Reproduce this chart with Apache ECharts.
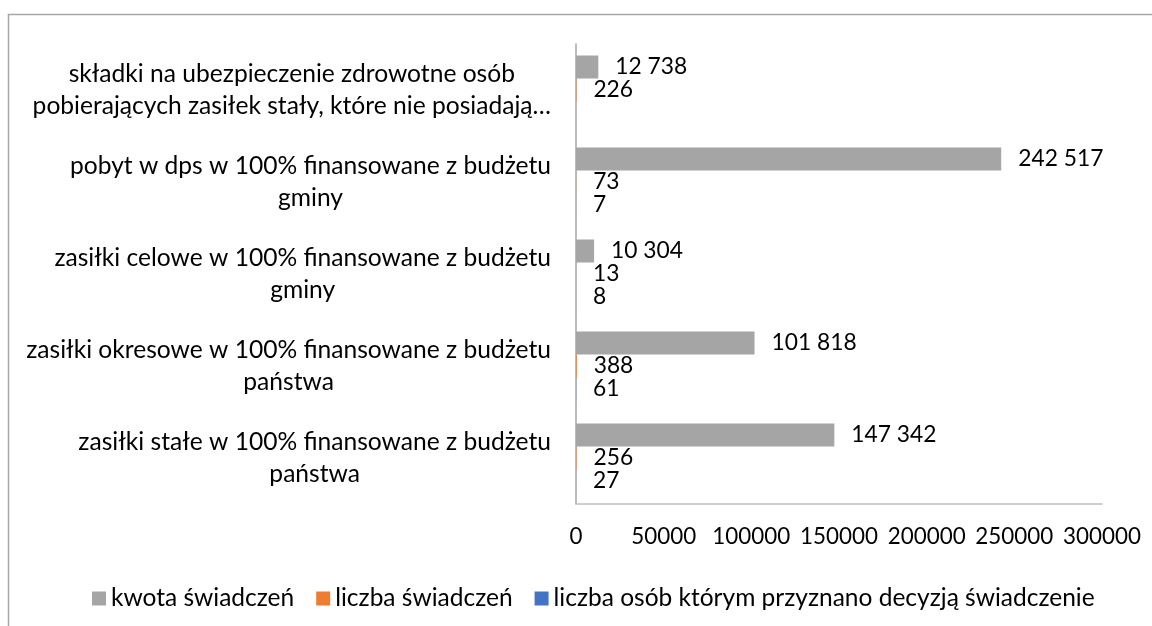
<!DOCTYPE html>
<html>
<head>
<meta charset="utf-8">
<script src="https://cdn.jsdelivr.net/npm/echarts@6/dist/echarts.min.js"></script>
<style>
  html, body { margin: 0; padding: 0; background: #fff; }
  #chart { width: 1152px; height: 626px; }
</style>
</head>
<body>
<div id="chart"></div>
<script>
// kategorie od góry do dołu
const categories = [
  'składki na ubezpieczenie zdrowotne osób\npobierających zasiłek stały, które nie posiadają…',
  'pobyt w dps w 100% finansowane z budżetu\ngminy',
  'zasiłki celowe w 100% finansowane z budżetu\ngminy',
  'zasiłki okresowe w 100% finansowane z budżetu\npaństwa',
  'zasiłki stałe w 100% finansowane z budżetu\npaństwa'
];
const seriesNames = ['kwota świadczeń', 'liczba świadczeń', 'liczba osób którym przyznano decyzją świadczenie'];
const kwota = [12738, 242517, 10304, 101818, 147342];
const liczba = [226, 73, 13, 388, 256];
const osoby = [null, 7, 8, 61, 27];
const xTicks = [0, 300000, 50000]; // min, max, interval

const colors = ['#a5a5a5', '#ed7d31', '#4472c4'];
const font = 'Lato';

// rozmiar czcionki dobrany tak, zeby tekst mial zadana szerokosc (oryginal byl w Calibri)
const ctx = document.createElement('canvas').getContext('2d');
function fitSize(text, width) {
  ctx.font = '100px ' + font;
  return Math.round(1000 * width / ctx.measureText(text).width) / 10;
}
const catSize = fitSize('zasiłki stałe w 100% finansowane z budżetu', 472);
const tickSize = fitSize('300000', 78);
const valSize = fitSize('147 342', 85);
const legendSize = fitSize('kwota świadczeń', 183);

// 12738 -> "12 738"
function fmt(v) {
  return String(v).replace(/\B(?=(\d{3})+(?!\d))/g, ' ');
}

const chart = echarts.init(document.getElementById('chart'));

function barSeries(name, data, i) {
  return {
    name: name,
    type: 'bar',
    data: data,
    barWidth: 23,
    barGap: '0%',
    itemStyle: { color: colors[i] },
    label: {
      show: true,
      position: 'right',
      distance: 17,
      color: '#000',
      fontFamily: font,
      fontSize: valSize,
      formatter: p => fmt(p.value)
    }
  };
}

chart.setOption({
  animation: false,
  textStyle: { fontFamily: font },
  graphic: [{
    type: 'polyline',
    shape: { points: [[8.5, 626], [8.5, 14.5], [1152, 14.5]] },
    style: { stroke: '#a6a6a6', lineWidth: 1.5, fill: null }
  }],
  grid: { left: 576, right: 50, top: 44, bottom: 122 },
  legend: {
    left: 87,
    top: 581,
    itemWidth: 14,
    itemHeight: 14,
    itemGap: 22,
    icon: 'rect',
    textStyle: { color: '#000', fontSize: legendSize, fontFamily: font },
    data: seriesNames
  },
  xAxis: {
    type: 'value',
    min: xTicks[0],
    max: xTicks[1],
    interval: xTicks[2],
    axisLine: { show: true, lineStyle: { color: '#bfbfbf', width: 1.5 } },
    axisTick: { show: false },
    splitLine: { show: false },
    axisLabel: { color: '#000', fontSize: tickSize, margin: 22, fontFamily: font, formatter: v => String(v) }
  },
  yAxis: {
    type: 'category',
    inverse: true,
    data: categories,
    axisLine: { show: true, lineStyle: { color: '#a6a6a6', width: 1.5 } },
    axisTick: { show: false },
    axisLabel: {
      interval: 0,
      margin: 25,
      align: 'right',
      color: '#000',
      formatter: v => v.split('\n').map(l => '{c|' + l + '}').join('\n'),
      rich: {
        c: { align: 'center', fontSize: catSize, lineHeight: 32, color: '#000', fontFamily: font }
      }
    }
  },
  series: [
    barSeries(seriesNames[0], kwota, 0),
    barSeries(seriesNames[1], liczba, 1),
    barSeries(seriesNames[2], osoby, 2)
  ]
});
</script>
</body>
</html>
